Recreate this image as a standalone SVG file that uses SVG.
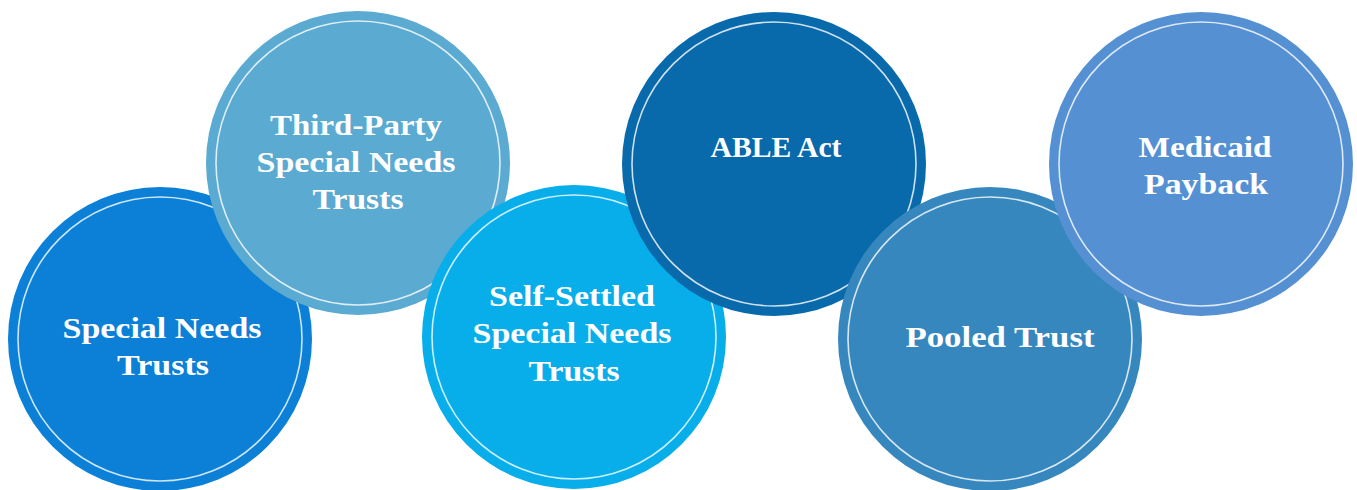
<svg xmlns="http://www.w3.org/2000/svg" width="1357" height="490" viewBox="0 0 1357 490">
  <style>
    .disc { stroke: none; }
    .ring { fill: none; stroke: #ffffff; stroke-opacity: 0.8; stroke-width: 1.6; }
    .label { font-family: "Liberation Serif", "Times New Roman", serif; font-weight: bold; font-size: 30px; fill: #ffffff; text-anchor: middle; }
  </style>
  <rect width="1357" height="490" fill="#ffffff"/>

  <g id="special-needs-trusts">
    <circle class="disc" cx="160" cy="339" r="152" fill="#0B80D6"/>
    <circle class="ring" cx="160" cy="339" r="142"/>
    <text class="label" x="162" y="338" textLength="199" lengthAdjust="spacingAndGlyphs">Special Needs</text>
    <text class="label" x="163" y="375" textLength="92" lengthAdjust="spacingAndGlyphs">Trusts</text>
  </g>

  <g id="third-party-snt">
    <circle class="disc" cx="358" cy="163" r="152" fill="#5AAAD1"/>
    <circle class="ring" cx="358" cy="163" r="142"/>
    <text class="label" x="356" y="135" textLength="172" lengthAdjust="spacingAndGlyphs">Third-Party</text>
    <text class="label" x="356" y="172" textLength="199" lengthAdjust="spacingAndGlyphs">Special Needs</text>
    <text class="label" x="358" y="209" textLength="91" lengthAdjust="spacingAndGlyphs">Trusts</text>
  </g>

  <g id="self-settled-snt">
    <circle class="disc" cx="574" cy="337" r="152" fill="#07AEEA"/>
    <circle class="ring" cx="574" cy="337" r="142"/>
    <text class="label" x="572" y="306" textLength="166" lengthAdjust="spacingAndGlyphs">Self-Settled</text>
    <text class="label" x="572" y="343" textLength="199" lengthAdjust="spacingAndGlyphs">Special Needs</text>
    <text class="label" x="574" y="381" textLength="91" lengthAdjust="spacingAndGlyphs">Trusts</text>
  </g>

  <g id="able-act">
    <circle class="disc" cx="774" cy="164" r="152" fill="#0869AB"/>
    <circle class="ring" cx="774" cy="164" r="142"/>
    <text class="label" x="776" y="157" textLength="131" lengthAdjust="spacingAndGlyphs">ABLE Act</text>
  </g>

  <g id="pooled-trust">
    <circle class="disc" cx="990" cy="339" r="152" fill="#3787BF"/>
    <circle class="ring" cx="990" cy="339" r="142"/>
    <text class="label" x="1000" y="347" textLength="189" lengthAdjust="spacingAndGlyphs">Pooled Trust</text>
  </g>

  <g id="medicaid-payback">
    <circle class="disc" cx="1201" cy="164" r="152" fill="#5590D2"/>
    <circle class="ring" cx="1201" cy="164" r="142"/>
    <text class="label" x="1205" y="157" textLength="133" lengthAdjust="spacingAndGlyphs">Medicaid</text>
    <text class="label" x="1206" y="194" textLength="124" lengthAdjust="spacingAndGlyphs">Payback</text>
  </g>

  <g id="connectors"></g>
</svg>
